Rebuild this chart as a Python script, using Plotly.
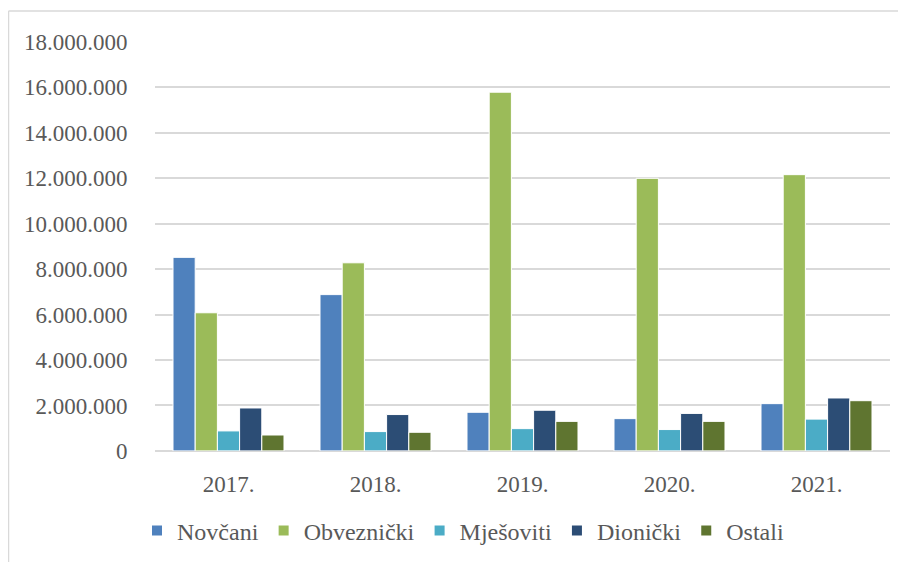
import plotly.graph_objects as go

years = ["2017.", "2018.", "2019.", "2020.", "2021."]
novcani = [8520000, 6880000, 1700000, 1420000, 2080000]
obveznicki = [6080000, 8280000, 15790000, 12000000, 12160000]
mjesoviti = [880000, 850000, 980000, 940000, 1400000]
dionicki = [1890000, 1600000, 1790000, 1650000, 2330000]
ostali = [700000, 820000, 1300000, 1300000, 2210000]

series = [
    ("Novčani", novcani, "#4f81bd"),
    ("Obveznički", obveznicki, "#9bbb59"),
    ("Mješoviti", mjesoviti, "#4bacc6"),
    ("Dionički", dionicki, "#2c4d75"),
    ("Ostali", ostali, "#5f7530"),
]

tickvals = [0, 2000000, 4000000, 6000000, 8000000, 10000000, 12000000, 14000000, 16000000, 18000000]
ticktext = ["0", "2.000.000", "4.000.000", "6.000.000", "8.000.000", "10.000.000",
            "12.000.000", "14.000.000", "16.000.000", "18.000.000"]

fig = go.Figure()
for name, vals, col in series:
    fig.add_trace(go.Bar(x=years, y=vals, name=name, marker_color=col,
                         marker_line=dict(color="white", width=1)))

axfont = dict(family="Liberation Serif, Times New Roman, serif", size=23, color="#595959")
legfont = dict(family="Liberation Serif, Times New Roman, serif", size=24, color="#595959")
W, H = 906, 562
OFF = 8  # page body margin
L, T = 155 - OFF, 42 - OFF
plot_right = 890 - OFF
plot_bottom = 452 - OFF
R, B = W - plot_right, H - plot_bottom
pw, ph = plot_right - L, plot_bottom - T

fig.update_layout(
    width=W, height=H,
    margin=dict(l=L, r=R, t=T, b=B),
    barmode="group", bargap=0.245, bargroupgap=0,
    plot_bgcolor="white", paper_bgcolor="white",
    font=axfont,
    xaxis=dict(showgrid=False, showline=False, ticks="outside", ticklen=12,
               tickcolor="rgba(0,0,0,0)", tickfont=axfont),
    yaxis=dict(range=[0, 18000000], tickvals=tickvals, ticktext=ticktext,
               showgrid=True, gridcolor="#d9d9d9", gridwidth=1.5,
               zeroline=True, zerolinecolor="#d9d9d9", zerolinewidth=1.5,
               showline=False, ticks="outside", ticklen=22, tickcolor="rgba(0,0,0,0)",
               tickfont=axfont),
    legend=dict(orientation="h", xref="container", yref="container",
                x=(137 - OFF) / W, xanchor="left", y=(H - (531 - OFF)) / H, yanchor="middle",
                font=legfont, itemsizing="constant", tracegroupgap=0,
                itemwidth=30),
    showlegend=True,
)

# outer chart border (top and left visible)
x_left = (8.5 - OFF - L) / pw
y_top = (plot_bottom - (11 - OFF)) / ph
fig.add_shape(type="line", xref="paper", yref="paper", x0=x_left, x1=1.1, y0=y_top, y1=y_top,
              line=dict(color="#d9d9d9", width=1.5))
fig.add_shape(type="line", xref="paper", yref="paper", x0=x_left, x1=x_left, y0=y_top, y1=-0.4,
              line=dict(color="#d9d9d9", width=1.5))

fig.write_html("out.html")
